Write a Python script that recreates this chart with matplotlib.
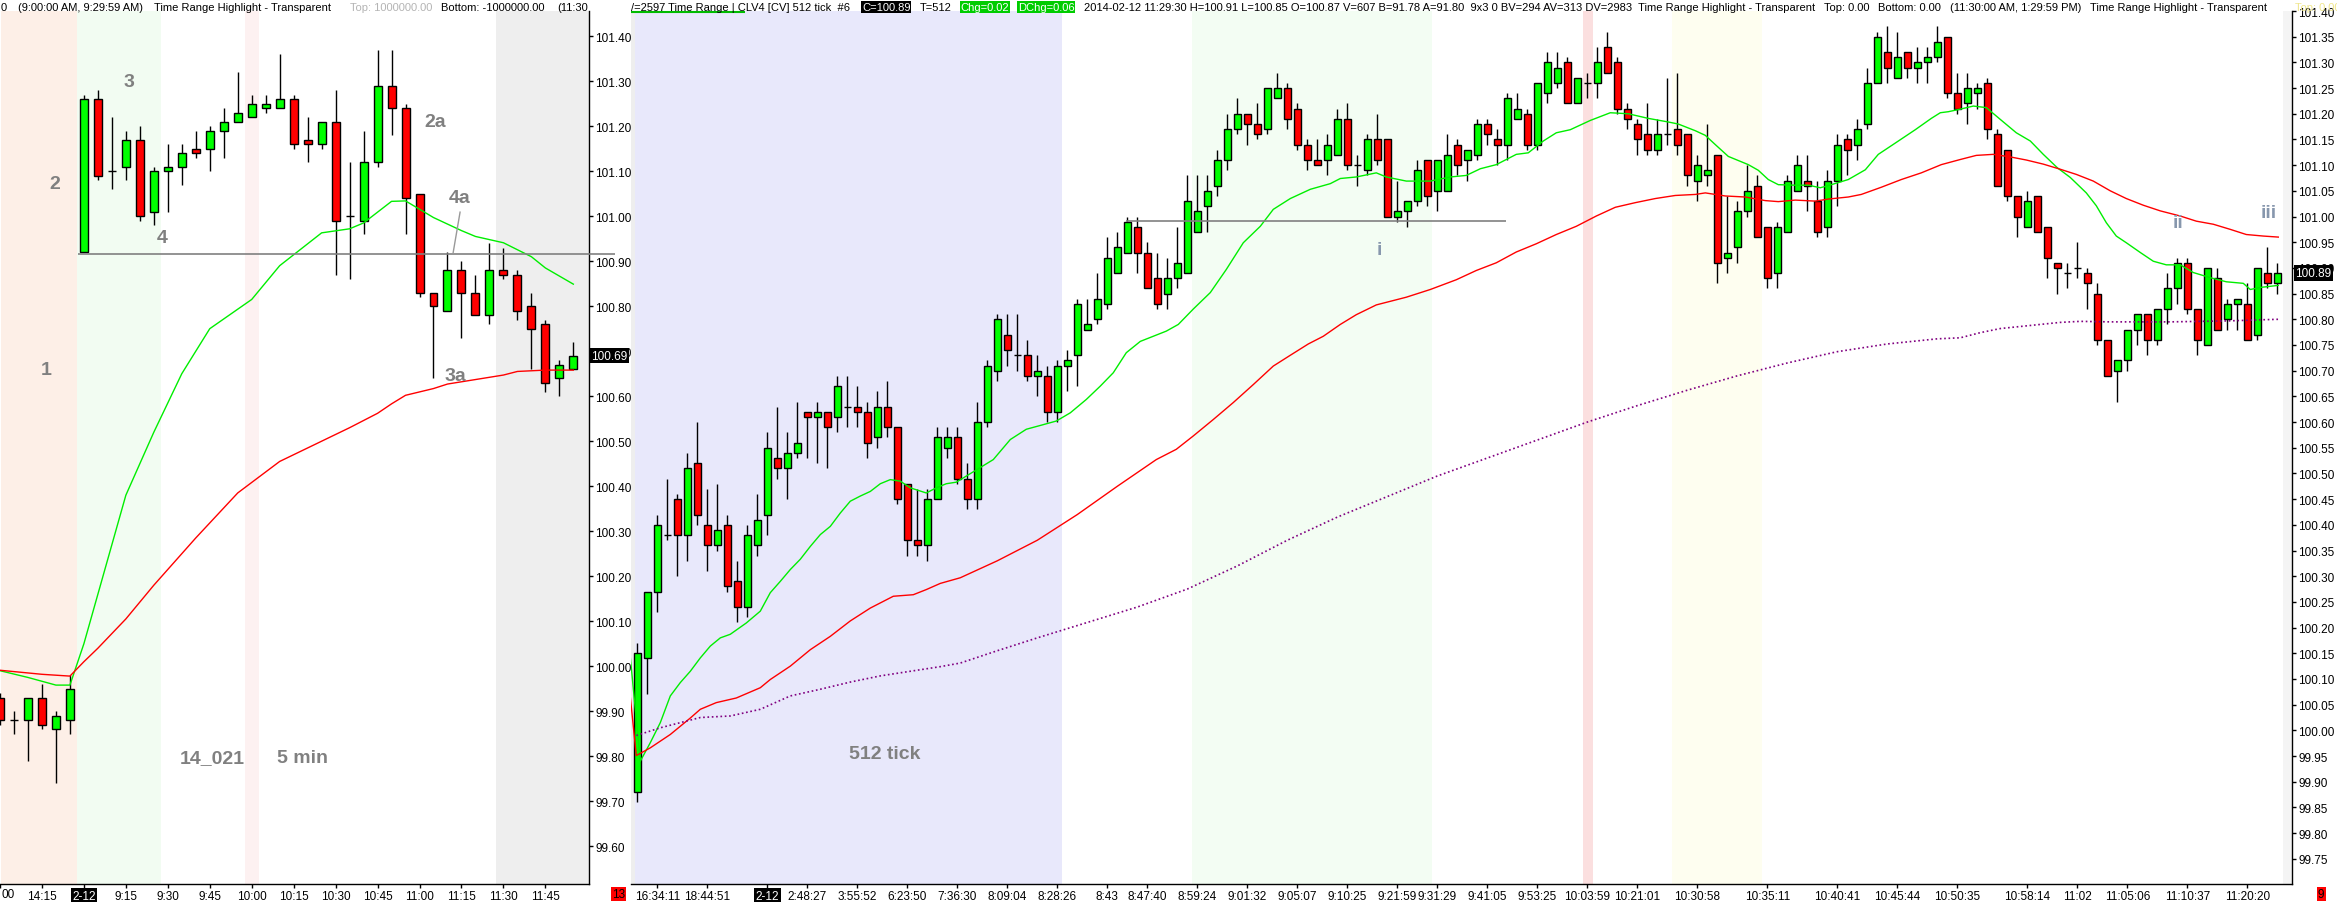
import matplotlib
matplotlib.use('Agg')
import matplotlib.pyplot as plt
import numpy as np
from matplotlib import font_manager

W, H, DPI = 2337, 903, 100

names = {f.name for f in font_manager.fontManager.ttflist}
NARROW = 'Liberation Sans Narrow' in names
plt.rcParams['font.family'] = (['Liberation Sans Narrow', 'Liberation Sans', 'DejaVu Sans']
                               if NARROW else ['Liberation Sans', 'DejaVu Sans'])
TICK_FS = 10.5 if NARROW else 8.5
HDR_FS = 10.0 if NARROW else 8.0
LAB_FS = 16 if NARROW else 14

# ---------------- left panel: 5 min bars (bar 0 = first bar of 2-12) ----------------
l_bar = np.arange(-6, 36)
l_open = [99.93, 99.88, 99.88, 99.93, 99.86, 99.88,
          100.92, 101.26, 101.10, 101.11, 101.17, 101.01, 101.10, 101.11, 101.15, 101.15,
          101.19, 101.21, 101.22, 101.24, 101.24, 101.26, 101.17, 101.16, 101.21, 101.00,
          100.99, 101.12, 101.29, 101.24, 101.05, 100.83, 100.79, 100.88, 100.83, 100.78,
          100.88, 100.87, 100.80, 100.76, 100.64, 100.66]
l_close = [99.88, 99.88, 99.93, 99.87, 99.89, 99.95,
           101.26, 101.09, 101.10, 101.17, 101.00, 101.10, 101.11, 101.14, 101.14, 101.19,
           101.21, 101.23, 101.25, 101.25, 101.26, 101.16, 101.16, 101.21, 100.99, 101.00,
           101.12, 101.29, 101.24, 101.04, 100.83, 100.80, 100.88, 100.83, 100.78, 100.88,
           100.87, 100.79, 100.75, 100.63, 100.67, 100.69]
l_high = [99.94, 99.90, 99.93, 99.96, 99.90, 99.98,
          101.27, 101.28, 101.22, 101.19, 101.20, 101.11, 101.16, 101.16, 101.19, 101.20,
          101.24, 101.32, 101.27, 101.27, 101.36, 101.27, 101.22, 101.21, 101.28, 101.12,
          101.19, 101.37, 101.37, 101.25, 101.05, 100.83, 100.92, 100.90, 100.87, 100.94,
          100.93, 100.88, 100.83, 100.77, 100.68, 100.72]
l_low = [99.87, 99.85, 99.79, 99.86, 99.74, 99.85,
         100.92, 101.08, 101.06, 101.08, 100.99, 100.98, 101.01, 101.07, 101.13, 101.10,
         101.13, 101.21, 101.22, 101.23, 101.24, 101.15, 101.12, 101.15, 100.87, 100.86,
         100.96, 101.11, 101.18, 100.96, 100.82, 100.64, 100.79, 100.73, 100.78, 100.76,
         100.86, 100.77, 100.66, 100.61, 100.60, 100.66]

l_fast_bar = [-6, -4, -2, -1, 0, 1, 3, 5, 7, 9, 12, 14, 17, 19, 20, 22, 23, 25, 27, 28, 30, 32, 33, 35]
l_fast_val = [99.99, 99.975, 99.958, 99.958, 100.05, 100.16, 100.38, 100.52, 100.65, 100.75,
              100.815, 100.89, 100.963, 100.972, 100.985, 101.033, 101.034, 100.997, 100.968,
              100.955, 100.941, 100.91, 100.885, 100.849]
l_slow_bar = [-6, -3, -1, 0, 1, 3, 5, 8, 11, 14, 17, 19, 21, 22, 23, 25, 26, 28, 30, 31, 33, 35]
l_slow_val = [99.991, 99.982, 99.978, 100.01, 100.04, 100.105, 100.18, 100.285, 100.385, 100.455,
              100.50, 100.53, 100.562, 100.583, 100.602, 100.617, 100.627, 100.637, 100.647,
              100.655, 100.658, 100.658]

l_tick_bar = [-6, -3, 0, 3, 6, 9, 12, 15, 18, 21, 24, 27, 30, 33]
l_tick_lab = ['', '14:15', '2-12', '9:15', '9:30', '9:45', '10:00', '10:15', '10:30',
              '10:45', '11:00', '11:15', '11:30', '11:45']
l_span_from = [-5.95, -0.5, 11.5, 29.5]
l_span_to = [-0.5, 5.5, 12.5, 36.2]
l_span_col = ['#fdefe7', '#f2fcf2', '#fdf1f1', '#eeeeee']
l_level = 100.915
l_pointer_bar = [26.9, 26.4]
l_pointer_val = [101.009, 100.918]
l_notes = ['1', '2', '3', '4', '2a', '4a', '3a', '14_021', '5 min']
l_note_bar = [-2.7, -2.1, 3.2, 5.6, 25.1, 26.9, 26.55, 9.2, 15.6]
l_note_val = [100.66, 101.073, 101.30, 100.953, 101.21, 101.042, 100.645, 99.798, 99.798]

# ---------------- right panel: 512 tick bars ----------------
r_ohlc = [
    (99.88, 100.15, 100.17, 99.86), (100.14, 100.27, 100.27, 100.07), (100.27, 100.40, 100.42, 100.23),
    (100.38, 100.38, 100.49, 100.37), (100.45, 100.38, 100.46, 100.30), (100.38, 100.51, 100.54, 100.33),
    (100.52, 100.42, 100.60, 100.40), (100.40, 100.36, 100.47, 100.31), (100.36, 100.39, 100.48, 100.35),
    (100.40, 100.28, 100.42, 100.27), (100.29, 100.24, 100.33, 100.21), (100.24, 100.38, 100.40, 100.22),
    (100.36, 100.41, 100.46, 100.34), (100.42, 100.55, 100.58, 100.38), (100.53, 100.51, 100.63, 100.49),
    (100.51, 100.54, 100.58, 100.45), (100.54, 100.56, 100.64, 100.53), (100.62, 100.61, 100.62, 100.53),
    (100.61, 100.62, 100.64, 100.52), (100.62, 100.59, 100.62, 100.51), (100.61, 100.67, 100.69, 100.58),
    (100.63, 100.63, 100.69, 100.59), (100.63, 100.62, 100.67, 100.59), (100.62, 100.56, 100.64, 100.53),
    (100.57, 100.63, 100.66, 100.55), (100.63, 100.59, 100.68, 100.57), (100.59, 100.45, 100.59, 100.44),
    (100.48, 100.37, 100.48, 100.34), (100.37, 100.36, 100.47, 100.34), (100.36, 100.45, 100.47, 100.33),
    (100.45, 100.57, 100.59, 100.45), (100.55, 100.57, 100.59, 100.53), (100.57, 100.49, 100.59, 100.48),
    (100.49, 100.45, 100.52, 100.43), (100.45, 100.60, 100.64, 100.43), (100.60, 100.71, 100.72, 100.59),
    (100.70, 100.80, 100.81, 100.68), (100.77, 100.74, 100.81, 100.71), (100.73, 100.73, 100.81, 100.70),
    (100.73, 100.69, 100.76, 100.68), (100.69, 100.70, 100.73, 100.65), (100.69, 100.62, 100.71, 100.60),
    (100.62, 100.71, 100.72, 100.60), (100.71, 100.72, 100.74, 100.66), (100.73, 100.83, 100.84, 100.67),
    (100.78, 100.79, 100.84, 100.78), (100.80, 100.84, 100.89, 100.79), (100.83, 100.92, 100.96, 100.82),
    (100.89, 100.94, 100.97, 100.89), (100.93, 100.99, 101.00, 100.93), (100.98, 100.93, 101.00, 100.89),
    (100.93, 100.86, 100.95, 100.86), (100.88, 100.83, 100.93, 100.82), (100.85, 100.88, 100.92, 100.82),
    (100.88, 100.91, 100.98, 100.86), (100.89, 101.03, 101.08, 100.89), (100.97, 101.01, 101.08, 100.97),
    (101.02, 101.05, 101.08, 100.97), (101.06, 101.11, 101.13, 101.04), (101.11, 101.17, 101.20, 101.09),
    (101.17, 101.20, 101.23, 101.16), (101.20, 101.18, 101.20, 101.14), (101.18, 101.16, 101.22, 101.15),
    (101.17, 101.25, 101.25, 101.16), (101.23, 101.25, 101.28, 101.23), (101.25, 101.19, 101.26, 101.17),
    (101.21, 101.14, 101.22, 101.13), (101.14, 101.11, 101.15, 101.09), (101.11, 101.10, 101.15, 101.10),
    (101.11, 101.14, 101.16, 101.08), (101.12, 101.19, 101.21, 101.12), (101.19, 101.10, 101.22, 101.09),
    (101.10, 101.10, 101.12, 101.06), (101.09, 101.15, 101.16, 101.08), (101.15, 101.11, 101.20, 101.10),
    (101.15, 101.00, 101.15, 101.00), (101.00, 101.01, 101.07, 100.99), (101.01, 101.03, 101.03, 100.98),
    (101.03, 101.09, 101.11, 101.02), (101.11, 101.04, 101.11, 101.02), (101.05, 101.11, 101.11, 101.01),
    (101.05, 101.12, 101.16, 101.05), (101.14, 101.10, 101.15, 101.08), (101.11, 101.13, 101.13, 101.07),
    (101.12, 101.18, 101.19, 101.11), (101.18, 101.16, 101.19, 101.14), (101.15, 101.14, 101.17, 101.10),
    (101.14, 101.23, 101.24, 101.11), (101.19, 101.21, 101.24, 101.19), (101.20, 101.14, 101.21, 101.13),
    (101.14, 101.26, 101.26, 101.13), (101.24, 101.30, 101.32, 101.22), (101.26, 101.29, 101.32, 101.25),
    (101.30, 101.22, 101.31, 101.22), (101.22, 101.27, 101.27, 101.22), (101.26, 101.26, 101.28, 101.23),
    (101.26, 101.30, 101.33, 101.23), (101.33, 101.28, 101.36, 101.28), (101.30, 101.21, 101.31, 101.20),
    (101.21, 101.19, 101.22, 101.17), (101.18, 101.15, 101.19, 101.12), (101.16, 101.13, 101.22, 101.12),
    (101.13, 101.16, 101.19, 101.12), (101.16, 101.16, 101.27, 101.14), (101.17, 101.14, 101.28, 101.12),
    (101.16, 101.08, 101.16, 101.06), (101.07, 101.10, 101.12, 101.03), (101.08, 101.09, 101.18, 101.06),
    (101.12, 100.91, 101.12, 100.87), (100.92, 100.93, 101.04, 100.89), (100.94, 101.01, 101.03, 100.91),
    (101.01, 101.05, 101.10, 101.00), (101.06, 100.96, 101.08, 100.96), (100.98, 100.88, 100.98, 100.86),
    (100.89, 100.98, 100.99, 100.86), (100.97, 101.07, 101.08, 100.97), (101.05, 101.10, 101.12, 101.05),
    (101.07, 101.06, 101.12, 101.01), (101.03, 100.97, 101.07, 100.96), (100.98, 101.07, 101.09, 100.96),
    (101.07, 101.14, 101.16, 101.02), (101.15, 101.13, 101.16, 101.08), (101.14, 101.17, 101.19, 101.11),
    (101.18, 101.26, 101.29, 101.17), (101.26, 101.35, 101.36, 101.26), (101.32, 101.29, 101.37, 101.26),
    (101.27, 101.31, 101.36, 101.27), (101.32, 101.29, 101.32, 101.27), (101.29, 101.30, 101.33, 101.26),
    (101.30, 101.31, 101.33, 101.26), (101.31, 101.34, 101.37, 101.30), (101.35, 101.24, 101.35, 101.23),
    (101.24, 101.21, 101.28, 101.20), (101.22, 101.25, 101.28, 101.18), (101.24, 101.25, 101.26, 101.21),
    (101.26, 101.17, 101.27, 101.15), (101.16, 101.06, 101.17, 101.06), (101.13, 101.04, 101.13, 101.03),
    (101.04, 101.00, 101.04, 100.96), (100.98, 101.03, 101.05, 100.98), (101.04, 100.97, 101.04, 100.97),
    (100.98, 100.92, 100.98, 100.88), (100.91, 100.90, 100.91, 100.85), (100.89, 100.89, 100.91, 100.86),
    (100.90, 100.90, 100.95, 100.88), (100.89, 100.87, 100.90, 100.82), (100.85, 100.76, 100.87, 100.75),
    (100.76, 100.69, 100.76, 100.69), (100.70, 100.72, 100.72, 100.64), (100.72, 100.78, 100.78, 100.70),
    (100.78, 100.81, 100.81, 100.75), (100.81, 100.76, 100.81, 100.73), (100.76, 100.82, 100.82, 100.75),
    (100.82, 100.86, 100.89, 100.79), (100.86, 100.91, 100.92, 100.83), (100.91, 100.82, 100.92, 100.81),
    (100.82, 100.76, 100.82, 100.73), (100.75, 100.90, 100.90, 100.75), (100.88, 100.78, 100.90, 100.78),
    (100.80, 100.83, 100.84, 100.78), (100.83, 100.84, 100.84, 100.78), (100.83, 100.76, 100.87, 100.76),
    (100.77, 100.90, 100.90, 100.76), (100.89, 100.87, 100.94, 100.86), (100.87, 100.89, 100.91, 100.85),
]
r_bar = np.arange(len(r_ohlc))
r_open, r_close, r_high, r_low = (np.array(v) for v in zip(*r_ohlc))

r_fast_bar = [-1, 0.3, 1.3, 2.3, 3.3, 4.3, 5.3, 6.3, 7.3, 8.3, 9.3, 10.9, 12.3, 13.3, 14.3, 15.3,
              16.3, 17.3, 18.3, 19.3, 20.3, 21.3, 22.3, 23.3, 24.3, 25.3, 26.3, 27.3, 28.9, 29.9,
              30.9, 31.9, 35.6, 37.3, 38.9, 40.6, 41.9, 43.3, 44.9, 46.3, 47.6, 48.9, 50.3, 51.6,
              52.9, 54.1, 55.6, 57.3, 58.9, 60.6, 62.3, 63.6, 65.3, 67.3, 69.3, 70.3, 71.9, 73.9,
              74.9, 76.9, 79.3, 81.3, 82.9, 84.3, 85.9, 87.9, 89.1, 90.6, 91.9, 93.3, 95.3, 97.3,
              99.1, 101.1, 103.1, 104.1, 105.8, 106.8, 107.8, 109.1, 111.1, 112.1, 113.1, 114.1,
              115.8, 117.1, 118.3, 119.4, 121.1, 122.8, 124.1, 125.8, 127.8, 129.4, 130.3, 131.1,
              132.3, 133.6, 134.9, 136.3, 137.9, 139.3, 140.6, 142.0, 143.3, 144.9, 145.9, 146.9,
              147.9, 148.9, 150.3, 151.6, 152.9, 154.3, 155.6, 157.3, 158.9, 160.6, 161.3, 162.3, 164.1]
r_fast_val = [100.203, 99.940, 99.976, 100.015, 100.067, 100.093, 100.115, 100.141, 100.164, 100.180,
              100.187, 100.209, 100.232, 100.268, 100.290, 100.313, 100.333, 100.358, 100.381,
              100.397, 100.423, 100.446, 100.456, 100.465, 100.480, 100.488, 100.485, 100.472,
              100.462, 100.472, 100.480, 100.483, 100.527, 100.566, 100.586, 100.595, 100.602,
              100.618, 100.644, 100.670, 100.696, 100.735, 100.757, 100.767, 100.777, 100.790,
              100.820, 100.852, 100.897, 100.949, 100.981, 101.014, 101.035, 101.053, 101.064,
              101.074, 101.077, 101.085, 101.077, 101.069, 101.069, 101.077, 101.080, 101.093,
              101.101, 101.121, 101.124, 101.147, 101.163, 101.169, 101.187, 101.202, 101.200,
              101.191, 101.184, 101.180, 101.167, 101.158, 101.140, 101.117, 101.101, 101.090,
              101.072, 101.062, 101.061, 101.061, 101.056, 101.062, 101.072, 101.091, 101.121,
              101.143, 101.169, 101.191, 101.202, 101.204, 101.209, 101.215, 101.212, 101.189,
              101.163, 101.147, 101.121, 101.095, 101.076, 101.046, 101.021, 100.988, 100.962,
              100.949, 100.930, 100.913, 100.906, 100.906, 100.891, 100.881, 100.873, 100.870,
              100.858, 100.862, 100.866]

r_mid_bar = [-1, -0.1, 1.3, 3.3, 5.3, 6.3, 7.9, 9.9, 12.3, 13.3, 15.3, 17.3, 19.3, 21.3, 23.3, 25.6,
             27.6, 28.9, 30.3, 32.3, 36, 40, 44, 48, 51.9, 53.9, 55.6, 57.6, 59.6, 61.6, 63.6,
             65.3, 67.1, 68.6, 70.3, 71.9, 73.9, 76.9, 79.3, 81.9, 83.9, 85.9, 87.9, 89.9, 91.9,
             93.9, 95.9, 97.8, 99.8, 101.8, 103.8, 105.8, 106.8, 108.8, 110.8, 112.8, 114.1,
             115.8, 117.8, 119.1, 121.1, 122.4, 124.4, 126.4, 128.4, 130.4, 132.3, 133.9, 135.6,
             137.3, 138.9, 140.6, 142.3, 143.9, 145.6, 147.3, 148.9, 150.6, 152.3, 154.3, 155.9,
             157.6, 159.3, 160.9, 162.6, 164.1]
r_mid_val = [100.122, 99.951, 99.966, 99.992, 100.024, 100.041, 100.054, 100.063, 100.083, 100.099,
             100.125, 100.157, 100.183, 100.213, 100.238, 100.261, 100.264, 100.274, 100.286,
             100.297, 100.33, 100.37, 100.42, 100.475, 100.527, 100.547, 100.573, 100.605, 100.638,
             100.673, 100.709, 100.730, 100.752, 100.767, 100.790, 100.809, 100.828, 100.843,
             100.858, 100.877, 100.895, 100.910, 100.931, 100.947, 100.965, 100.981, 101.001,
             101.018, 101.027, 101.035, 101.041, 101.043, 101.046, 101.040, 101.038, 101.031,
             101.029, 101.032, 101.030, 101.034, 101.038, 101.043, 101.057, 101.072, 101.085,
             101.101, 101.111, 101.119, 101.121, 101.116, 101.110, 101.102, 101.092, 101.082,
             101.069, 101.050, 101.035, 101.022, 101.011, 101.001, 100.991, 100.985, 100.975,
             100.965, 100.962, 100.960]

r_slow_bar = [-0.1, 2.3, 4.3, 6.3, 9.3, 12.3, 15.3, 18.3, 21.3, 24.3, 27.3, 30.3, 32.3, 36, 40, 45,
              50, 55, 60, 65, 70, 75, 80, 85, 90, 95, 100, 105, 110, 115, 120, 125, 130, 132.3,
              134.3, 136.3, 138.3, 140.3, 142.3, 144.3, 147.3, 150.3, 153.3, 156.3, 159.3, 162.3, 164.1]
r_slow_val = [99.990, 100.005, 100.015, 100.025, 100.028, 100.041, 100.067, 100.080, 100.094, 100.106,
              100.115, 100.124, 100.131, 100.155, 100.18, 100.21, 100.24, 100.275, 100.32, 100.37,
              100.415, 100.455, 100.495, 100.53, 100.565, 100.60, 100.632, 100.662, 100.69, 100.715,
              100.737, 100.752, 100.762, 100.764, 100.774, 100.782, 100.786, 100.790, 100.794,
              100.796, 100.795, 100.795, 100.795, 100.796, 100.797, 100.799, 100.800]

r_tick_bar = [2, 7, 13, 17, 22, 27, 32, 37, 42, 47, 51, 56, 61, 66, 71, 76, 80, 85, 90, 95,
              100, 106, 113, 120, 126, 132, 139, 144, 149, 155, 161]
r_tick_lab = ['16:34:11', '18:44:51', '2-12', '2:48:27', '3:55:52', '6:23:50', '7:36:30', '8:09:04',
              '8:28:26', '8:43', '8:47:40', '8:59:24', '9:01:32', '9:05:07', '9:10:25', '9:21:59',
              '9:31:29', '9:41:05', '9:53:25', '10:03:59', '10:21:01', '10:30:58', '10:35:11',
              '10:40:41', '10:45:44', '10:50:35', '10:58:14', '11:02', '11:05:06', '11:10:37', '11:20:20']
r_span_from = [-0.63, -0.23, 55.5, 94.6, 103.5, 164.53]
r_span_to = [-0.23, 42.5, 79.5, 95.6, 112.5, 165.5]
r_span_col = ['#eeeeee', '#e8e8fb', '#f3fdf3', '#fbdfdf', '#fefef0', '#f4f4f4']
r_level = 100.991
r_level_from, r_level_to = 48.9, 86.9
r_notes = ['512 tick', 'i', 'ii', 'iii']
r_note_bar = [24.7, 74.2, 154.1, 163.1]
r_note_val = [99.955, 100.936, 100.989, 101.008]

# header strings: (start px, text, colour, box colour)
left_hdr = [(1, '0', 'black', None), (18, '(9:00:00 AM, 9:29:59 AM)', 'black', None),
            (154, 'Time Range Highlight - Transparent', 'black', None),
            (350, 'Top: 1000000.00', '#b4b4b4', None), (440, 'Bottom: -1000000.00', 'black', None),
            (557, '(11:30', 'black', None)]
right_hdr = [(631, '/=2597 Time Range | CLV4 [CV] 512 tick  #6', 'black', None),
             (862, 'C=100.89', 'white', 'black'), (916, 'T=512', 'black', None),
             (950, 'Chg=0.02', 'white', '#00cc00'), (1003, 'DChg=0.06', 'white', '#00cc00'),
             (1064, '2014-02-12 11:29:30 H=100.91 L=100.85 O=100.87 V=607 B=91.78 A=91.80  '
                    '9x3 0 BV=294 AV=313 DV=2983  Time Range Highlight - Transparent',
              'black', None),
             (1819, 'Top: 0.00', 'black', None), (1870, 'Bottom: 0.00', 'black', None),
             (1950, '(11:30:00 AM, 1:29:59 PM)', 'black', None),
             (2082, 'Time Range Highlight - Transparent', 'black', None),
             (2295, 'Top: 0.00', '#f0e68c', None)]


def draw_candles(ax, x, o, c, h, l, width):
    x, o, c, h, l = (np.asarray(v, float) for v in (x, o, c, h, l))
    ax.vlines(x, l, h, color='black', lw=1.0, zorder=3)
    up = c > o + 0.004
    dn = c < o - 0.004
    flat = ~(up | dn)
    for mask, col in ((up, '#00ff00'), (dn, '#ff0000')):
        ax.bar(x[mask], np.abs(c - o)[mask], width, bottom=np.minimum(o, c)[mask],
               color=col, edgecolor='black', linewidth=1.0, zorder=4)
    ax.hlines(((o + c) / 2)[flat], x[flat] - width / 2, x[flat] + width / 2,
              color='black', lw=1.0, zorder=4)


def style_axes(ax, yticks):
    for s in ('top', 'left'):
        ax.spines[s].set_visible(False)
    for s in ('right', 'bottom'):
        ax.spines[s].set_color('black')
        ax.spines[s].set_linewidth(1.0)
    ax.yaxis.tick_right()
    ax.set_yticks(yticks)
    ax.set_yticklabels(['%.2f' % v for v in yticks])
    ax.tick_params(axis='y', direction='out', length=3, width=1, pad=1.5, labelsize=TICK_FS)
    ax.tick_params(axis='x', direction='out', length=3, width=1, pad=1.0, labelsize=TICK_FS)
    ax.set_facecolor('white')


def date_box(ax, lab):
    for t in ax.get_xticklabels():
        if t.get_text() == lab:
            t.set_color('white')
            t.set_bbox(dict(facecolor='black', edgecolor='none', pad=1.2))


fig = plt.figure(figsize=(W / DPI, H / DPI), dpi=DPI)
top_px, bot_px = 12, 885
by = 1 - bot_px / H
hh = (bot_px - top_px) / H

# ---- left panel ----
axl = fig.add_axes([0, by, 589 / W, hh])
for a, b, col in zip(l_span_from, l_span_to, l_span_col):
    axl.axvspan(a, b, color=col, lw=0, zorder=0)
draw_candles(axl, l_bar, l_open, l_close, l_high, l_low, 0.57)
axl.plot(l_fast_bar, l_fast_val, color='#00ee00', lw=1.0, zorder=5)
axl.plot(l_slow_bar, l_slow_val, color='#ff0000', lw=1.0, zorder=5)
axl.hlines(l_level, -0.4, 38.0, color='#808080', lw=1.2, zorder=5, clip_on=False)
axl.plot(l_pointer_bar, l_pointer_val, color='#999999', lw=1.0, zorder=5)
for s, x, y in zip(l_notes, l_note_bar, l_note_val):
    axl.text(x, y, s, color='#808080', fontsize=LAB_FS, fontweight='bold',
             ha='center', va='center', zorder=6)
axl.set_xlim(-5.95, 36.12)
axl.set_ylim(99.516, 101.456)
style_axes(axl, np.round(np.arange(99.6, 101.41, 0.1), 2))
axl.set_xticks(l_tick_bar)
axl.set_xticklabels(l_tick_lab)
date_box(axl, '2-12')
# visible tail of the 14:00 label at the left edge
fig.text(1 / W, 1 - 895 / H, '00', fontsize=TICK_FS, va='center', ha='left')
axl.text(1.004, l_close[-1], '%.2f' % l_close[-1], transform=axl.get_yaxis_transform(),
         color='white', fontsize=TICK_FS, va='center', ha='left', clip_on=False, zorder=10,
         bbox=dict(facecolor='black', edgecolor='none', pad=1.0))

# ---- right panel ----
axr = fig.add_axes([631 / W, by, (2292 - 631) / W, hh])
for a, b, col in zip(r_span_from, r_span_to, r_span_col):
    axr.axvspan(a, b, color=col, lw=0, zorder=0)
draw_candles(axr, r_bar, r_open, r_close, r_high, r_low, 0.67)
axr.plot(r_fast_bar, r_fast_val, color='#00ee00', lw=1.0, zorder=5)
axr.plot(r_mid_bar, r_mid_val, color='#ff0000', lw=1.0, zorder=5)
axr.plot(r_slow_bar, r_slow_val, color='#800080', lw=1.2, ls=(0, (1, 1.6)), zorder=5)
axr.hlines(r_level, r_level_from, r_level_to, color='#808080', lw=1.2, zorder=5)
for s, x, y in zip(r_notes, r_note_bar, r_note_val):
    col = '#808080' if s == '512 tick' else '#8797ad'
    axr.text(x, y, s, color=col, fontsize=LAB_FS, fontweight='bold',
             ha='center', va='center', zorder=6)
axr.set_xlim(-0.63, 165.47)
axr.set_ylim(99.701, 101.399)
style_axes(axr, np.round(np.arange(99.75, 101.401, 0.05), 2))
axr.set_xticks(r_tick_bar)
axr.set_xticklabels(r_tick_lab)
date_box(axr, '2-12')
axr.text(1.002, r_close[-1], '%.2f' % r_close[-1], transform=axr.get_yaxis_transform(),
         color='white', fontsize=TICK_FS, va='center', ha='left', clip_on=False, zorder=10,
         bbox=dict(facecolor='black', edgecolor='none', pad=1.2))

# small red boxes at the axis ends
fig.text(612 / W, 1 - 895 / H, '13', fontsize=TICK_FS, color='black', va='center',
         bbox=dict(facecolor='#ff0000', edgecolor='none', pad=0.8))
fig.text(2318 / W, 1 - 895 / H, '9', fontsize=TICK_FS, color='black', va='center',
         bbox=dict(facecolor='#ff0000', edgecolor='none', pad=0.8))

# ---- header lines (axes in pixel units) ----
hdr_h = 20
hl = fig.add_axes([0, 1 - hdr_h / H, 589 / W, hdr_h / H])
hr = fig.add_axes([629 / W, 1 - hdr_h / H, (W - 629) / W, hdr_h / H])
hl.set_xlim(0, 589)
hr.set_xlim(629, W)
for a in (hl, hr):
    a.set_ylim(hdr_h, 0)
    a.axis('off')

fig.canvas.draw()
renderer = fig.canvas.get_renderer()
for a, items in ((hl, left_hdr), (hr, right_hdr)):
    prev_end = -1e9
    for x, s, col, bg in items:
        kw = {}
        if bg:
            kw['bbox'] = dict(facecolor=bg, edgecolor='none', pad=0.6)
        x0 = max(x, prev_end + 9)
        t = a.text(x0, 8, s, color=col, fontsize=HDR_FS, va='center', ha='left',
                   clip_on=True, **kw)
        prev_end = x0 + t.get_window_extent(renderer).width
hr.plot([631, 745], [13, 13], color='#00bb00', lw=1.5, solid_capstyle='butt')

fig.savefig('out.png', dpi=DPI)
